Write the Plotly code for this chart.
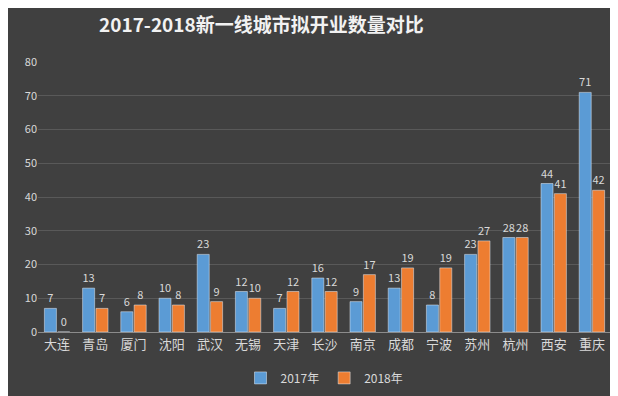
import plotly.graph_objects as go

cities = ["大连", "青岛", "厦门", "沈阳", "武汉", "无锡", "天津", "长沙", "南京", "成都", "宁波", "苏州", "杭州", "西安", "重庆"]
v2017 = [7, 13, 6, 10, 23, 12, 7, 16, 9, 13, 8, 23, 28, 44, 71]
v2018 = [0, 7, 8, 8, 9, 10, 12, 12, 17, 19, 19, 27, 28, 41, 42]
yticks = [0, 10, 20, 30, 40, 50, 60, 70, 80]

font = "Noto Sans CJK SC"
fig = go.Figure()
fig.add_trace(go.Bar(x=cities, y=v2017, name="2017年", marker_color="#5B9BD5",
                     text=v2017, textposition="outside", cliponaxis=False, constraintext="none",
                     textfont=dict(color="#d9d9d9", size=11, family=font)))
fig.add_trace(go.Bar(x=cities, y=v2018, name="2018年", marker_color="#ED7D31",
                     text=v2018, textposition="outside", cliponaxis=False, constraintext="none",
                     textfont=dict(color="#d9d9d9", size=11, family=font)))

fig.update_layout(
    width=618, height=396,
    paper_bgcolor="#404040", plot_bgcolor="#404040",
    margin=dict(l=30, r=15, t=54, b=63),
    barmode="group", bargap=0.3, bargroupgap=0.1,
    title=dict(text="<b>2017-2018新一线城市拟开业数量对比</b>", x=0.41, xanchor="center",
               y=0.955, yanchor="middle",
               font=dict(family=font, size=19, color="#f2f2f2")),
    font=dict(family=font, color="#d9d9d9"),
    showlegend=True,
    legend=dict(orientation="h", x=0.5, xanchor="center", y=-0.17, yanchor="middle",
                font=dict(size=12, color="#d9d9d9"), bgcolor="rgba(0,0,0,0)",
                itemwidth=30, tracegroupgap=0),
    xaxis=dict(tickfont=dict(size=13, color="#d9d9d9"), showline=True, linecolor="#8c8c8c",
               linewidth=1, ticks="", showgrid=False),
    yaxis=dict(range=[0, 80], tickvals=yticks, tickfont=dict(size=11, color="#d9d9d9"),
               showgrid=True, gridcolor="#595959", gridwidth=1, zeroline=False, ticks=""),
)

fig.write_html("out.html")
